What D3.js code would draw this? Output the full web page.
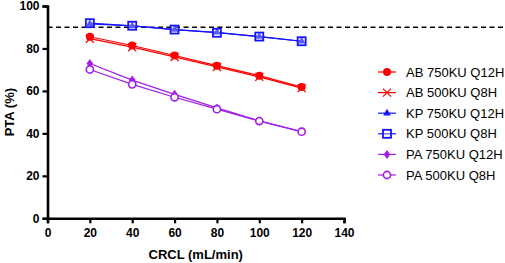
<!DOCTYPE html>
<html>
<head>
<meta charset="utf-8">
<script src="https://cdn.jsdelivr.net/npm/d3@7"></script>
<style>
body { margin: 0; background: #fff; }
text { font-family: "Liberation Sans", Arial, sans-serif; }
</style>
</head>
<body>
<div id="chart"></div>
<script>
var w = 505;
var h = 263;

// data
var crcl = [20, 40, 60, 80, 100, 120];
var ab750 = [85.5, 81.4, 76.7, 71.9, 67.2, 61.8];
var ab500 = [84.6, 80.6, 76.0, 71.3, 66.6, 61.3];
var kp750 = [91.6, 90.6, 88.9, 87.6, 85.6, 83.4];
var kp500 = [91.9, 90.7, 88.9, 87.4, 85.6, 83.4];
var pa750 = [72.9, 65.1, 58.4, 52.0, 45.9, 40.8];
var pa500 = [70.1, 63.1, 57.0, 51.4, 45.8, 40.8];
var target = 90;
var xTicks = [0, 20, 40, 60, 80, 100, 120, 140];
var yTicks = [0, 20, 40, 60, 80, 100];

var red = "#ff0000", blue = "#1414ff", purple = "#a21fe6";

var series = [
	{ name: "AB 750KU Q12H", values: ab750, color: red, shape: "dot" },
	{ name: "AB 500KU Q8H", values: ab500, color: red, shape: "cross" },
	{ name: "KP 750KU Q12H", values: kp750, color: blue, shape: "triangle" },
	{ name: "KP 500KU Q8H", values: kp500, color: blue, shape: "square" },
	{ name: "PA 750KU Q12H", values: pa750, color: purple, shape: "diamond" },
	{ name: "PA 500KU Q8H", values: pa500, color: purple, shape: "ring" }
];

var x = d3.scaleLinear().domain([0, 140]).range([47.5, 344]);
var y = d3.scaleLinear().domain([0, 100]).range([218.3, 6]);

var svg = d3.select("#chart").append("svg")
	.attr("width", w)
	.attr("height", h);

// target line
svg.append("line")
	.attr("x1", x(0)).attr("x2", w)
	.attr("y1", y(target)).attr("y2", y(target))
	.attr("stroke", "#000")
	.attr("stroke-width", 1.6)
	.attr("stroke-dasharray", "5,3.5");

function drawMarker(g, shape, color) {
	if (shape == "dot") {
		g.append("circle").attr("r", 4).attr("fill", color);
	} else if (shape == "ring") {
		g.append("circle").attr("r", 3.6).attr("fill", "#fff")
			.attr("stroke", color).attr("stroke-width", 1.6);
	} else if (shape == "cross") {
		g.append("path").attr("d", "M-4,-4L4,4M-4,4L4,-4")
			.attr("stroke", color).attr("stroke-width", 1.3).attr("fill", "none");
	} else if (shape == "square") {
		g.append("rect").attr("x", -4).attr("y", -4).attr("width", 8).attr("height", 8)
			.attr("fill", "#fff").attr("fill-opacity", 0.3)
			.attr("stroke", color).attr("stroke-width", 1.8);
	} else if (shape == "triangle") {
		g.append("path").attr("d", d3.symbol(d3.symbolTriangle, 26)())
			.attr("fill", color);
	} else if (shape == "diamond") {
		g.append("path").attr("d", "M0,-4.5L3.3,0L0,4.5L-3.3,0Z")
			.attr("fill", color);
	}
}

var line = d3.line()
	.x(function (d, i) { return x(crcl[i]); })
	.y(function (d) { return y(d); });

series.forEach(function (s) {
	svg.append("path")
		.attr("d", line(s.values))
		.attr("fill", "none")
		.attr("stroke", s.color)
		.attr("stroke-width", 1.2);
});

series.forEach(function (s) {
	s.values.forEach(function (v, i) {
		var g = svg.append("g")
			.attr("transform", "translate(" + x(crcl[i]) + "," + y(v) + ")");
		drawMarker(g, s.shape, s.color);
	});
});

// axes
var xAxis = svg.append("g")
	.attr("transform", "translate(0," + y(0) + ")")
	.call(d3.axisBottom(x).tickValues(xTicks).tickSize(5).tickSizeOuter(5));
var yAxis = svg.append("g")
	.attr("transform", "translate(" + x(0) + ",0)")
	.call(d3.axisLeft(y).tickValues(yTicks).tickSize(5).tickSizeOuter(5));

[xAxis, yAxis].forEach(function (a) {
	a.select(".domain").attr("stroke-width", 2.6);
	a.selectAll(".tick line").attr("stroke-width", 2.2);
	a.selectAll("text")
		.attr("font-size", "12px")
		.attr("font-weight", "bold")
		.attr("font-family", "Liberation Sans, Arial, sans-serif")
		.attr("fill", "#000");
});
xAxis.selectAll("text").attr("dy", "0.9em");
yAxis.selectAll("text").attr("x", -8);

svg.append("text")
	.attr("x", (x(0) + x(140)) / 2)
	.attr("y", 259)
	.attr("text-anchor", "middle")
	.attr("font-size", "13px")
	.attr("font-weight", "bold")
	.text("CRCL (mL/min)");

svg.append("text")
	.attr("transform", "translate(14," + y(50) + ") rotate(-90)")
	.attr("text-anchor", "middle")
	.attr("font-size", "13px")
	.attr("font-weight", "bold")
	.text("PTA (%)");

// legend
var legend = svg.append("g");
series.forEach(function (s, i) {
	var ly = 72 + i * 20.6;
	var g = legend.append("g").attr("transform", "translate(387," + ly + ")");
	g.append("line").attr("x1", -9).attr("x2", 9)
		.attr("stroke", s.color).attr("stroke-width", 1.2);
	drawMarker(g, s.shape, s.color);
	legend.append("text")
		.attr("x", 406)
		.attr("y", ly + 4.5)
		.attr("font-size", "13px")
		.attr("fill", "#000")
		.text(s.name);
});
</script>
</body>
</html>
